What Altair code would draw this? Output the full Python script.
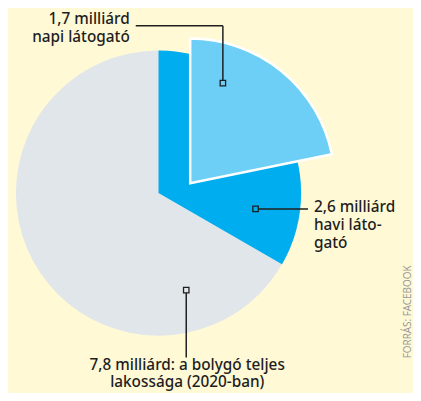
import math
import altair as alt
import pandas as pd

# ---- data ----
segments = ["teljes lakosság", "havi látogató", "napi látogató"]
values = [7.8, 2.6, 1.7]  # milliárd
label_total = ["7,8 milliárd: a bolygó teljes", "lakossága (2020-ban)"]
label_monthly = ["2,6 milliárd", "havi láto-", "gató"]
label_daily = ["1,7 milliárd", "napi látogató"]
source_text = "FORRÁS:  FACEBOOK"

df = pd.DataFrame({"segment": segments, "value": values})
one = pd.DataFrame({"k": [0]})

BG = "#FFF9D6"
GREY = "#E1E6EA"
BLUE = "#00AEEF"
LIGHT = "#6DCFF6"
INK = "#1E1E1E"
FONT = "Noto Sans"

theta_scale = alt.Scale(domain=[0, values[0]], range=[0, 2 * math.pi])


def slice_layer(seg, color, cx, cy, r, **kw):
    return (
        alt.Chart(df)
        .transform_filter(alt.datum.segment == seg)
        .mark_arc(radius=r, color=color, **kw)
        .encode(
            theta=alt.Theta("value:Q", scale=theta_scale, stack=True),
            x=alt.value(cx),
            y=alt.value(cy),
        )
    )


grey = slice_layer(segments[0], GREY, 152, 185, 144)
blue = slice_layer(segments[1], BLUE, 152, 185, 144)
light = slice_layer(segments[2], LIGHT, 184, 175, 146, stroke="white", strokeWidth=2.5)


def rule(x, x2, y, y2):
    return alt.Chart(one).mark_rule(color=INK, strokeWidth=1.5).encode(
        x=alt.value(x), x2=alt.value(x2), y=alt.value(y), y2=alt.value(y2)
    )


def marker(x, y, fill):
    return alt.Chart(one).mark_square(
        size=30, filled=True, fill=fill, stroke=INK, strokeWidth=1.3, opacity=1
    ).encode(x=alt.value(x), y=alt.value(y))


def label(lines, x, y, align, lh=18):
    return alt.Chart(one).mark_text(
        font=FONT, fontSize=15.5, fontWeight=500, color=INK, align=align,
        baseline="alphabetic", lineHeight=lh
    ).encode(text=alt.value(lines), x=alt.value(x), y=alt.value(y))


leaders = [
    rule(129, 217, 16, 16),
    rule(217, 217, 16, 74),
    rule(250, 303, 201, 201),
    rule(180, 180, 283, 351),
]
markers = [marker(217, 74, LIGHT), marker(250, 201, BLUE), marker(180, 283, GREY)]
labels = [
    label(label_daily, 123, 14, "right"),
    label(label_monthly, 309, 204, "left"),
    label(label_total, 181, 364, "center", lh=17),
]
source = alt.Chart(one).mark_text(
    font=FONT, fontSize=10, color="#9A9A9A", angle=270, align="center", baseline="middle"
).encode(text=alt.value(source_text), x=alt.value(404), y=alt.value(305))

chart = (
    alt.layer(grey, blue, light, *leaders, *markers, *labels, source)
    .properties(width=409, height=385, padding=0, background=BG, autosize="none")
    .configure_view(stroke=None)
)

chart.save("out.html", embed_options={"renderer": "svg", "actions": False})
